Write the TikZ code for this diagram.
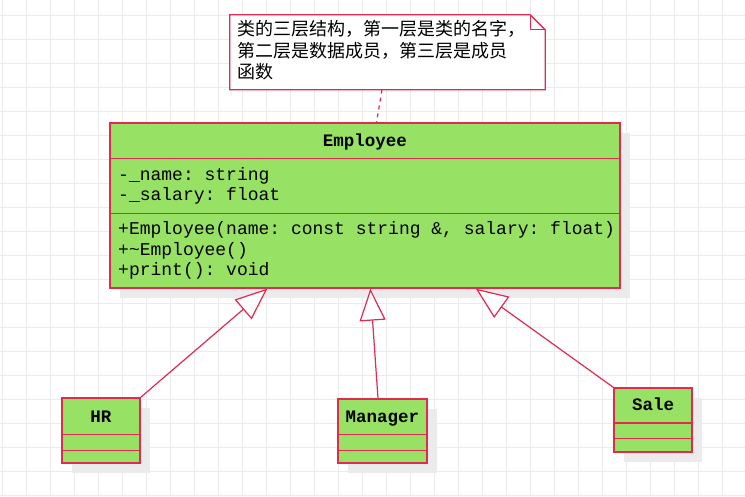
\documentclass[tikz,border=0pt]{standalone}
\usepackage{fontspec}
\setmonofont{Liberation Mono}
\newfontfamily\cjk{Noto Sans CJK SC}
\usepackage{xcolor}
\usepackage{tikz}
\usetikzlibrary{shapes, arrows.meta, positioning, calc, shadows}

\definecolor{umlgreen}{HTML}{97E265}
\definecolor{umlred}{HTML}{E2294F}
\definecolor{gridgray}{HTML}{EBEBEB}
\definecolor{shadowgray}{HTML}{EBEBEB}

\tikzset{
  classbox/.style={draw=umlred, fill=umlgreen, line width=1.3pt, inner sep=0pt,
    drop shadow={shadow xshift=10pt, shadow yshift=-10pt, fill=shadowgray, opacity=1}},
  classline/.style={draw=umlred, line width=1.3pt},
  classtitle/.style={font=\ttfamily\bfseries\fontsize{17.5}{20}\selectfont, inner sep=0pt,
    text height=12pt, text depth=3.5pt},
  membertext/.style={font=\ttfamily\fontsize{18}{20}\selectfont, anchor=west, inner sep=0pt,
    text height=12pt, text depth=3.5pt},
  inherit/.style={draw=umlred, line width=1.2pt, -{Triangle[length=32pt, width=26pt, fill=white]}},
  gridline/.style={draw=gridgray, line width=0.8pt},
}

\begin{document}
\begin{tikzpicture}[x=1pt, y=-1pt]
    % Fondo con cuadricula
    \useasboundingbox (0,0) rectangle (745,496);
    \fill[white] (0,0) rectangle (745,496);
    \foreach \gx in {2.5,26.5,...,745} \draw[gridline] (\gx,0) -- (\gx,496);
    \foreach \gy in {15.5,39.5,...,496} \draw[gridline] (0,\gy) -- (745,\gy);

    % Nota
    \node[minimum width=315pt, minimum height=74.5pt, inner sep=0pt] (note) at (387.5,52.25) {};
    \draw[classline, fill=white] (note.south west) -- (note.north west)
        -- ([xshift=-15pt]note.north east) -- ([yshift=-15pt]note.north east)
        -- (note.south east) -- cycle;
    \draw[classline] ([xshift=-15pt]note.north east) -- ([xshift=-15pt, yshift=-15pt]note.north east)
        -- ([yshift=-15pt]note.north east);
    \node[anchor=north west, align=left, inner sep=0pt, font=\cjk\fontsize{18}{21.5}\selectfont] (notetext)
        at (237,20.5) {类的三层结构，第一层是类的名字，\\第二层是数据成员，第三层是成员\\函数};

    % Clase Employee
    \node[classbox, minimum width=510pt, minimum height=165pt] (emp) at (365,205.5) {};
    \draw[classline] ($(emp.north west)+(0,36)$) -- ($(emp.north east)+(0,36)$);
    \draw[classline] ($(emp.north west)+(0,91)$) -- ($(emp.north east)+(0,91)$);
    \node[classtitle] (empname) at (365,142) {Employee};
    \node[membertext] (attrname) at (118,176) {-\_name: string};
    \node[membertext] (attrsalary) at (118,196.5) {-\_salary: float};
    \node[membertext] (opctor) at (118,230) {+Employee(name: const string \&, salary: float)};
    \node[membertext] (opdtor) at (118,251) {+\textasciitilde Employee()};
    \node[membertext] (opprint) at (118,271.5) {+print(): void};

    % Enlace de la nota
    \draw[umlred, line width=1.2pt, dash pattern=on 4pt off 4pt] ($(note.south)+(-5.5,0)$) -- ($(emp.north)+(11.5,0)$);

    % Subclases
    \node[classbox, minimum width=78pt, minimum height=65pt] (hr) at (101,430.5) {};
    \draw[classline] ($(hr.north west)+(0,37)$) -- ($(hr.north east)+(0,37)$);
    \draw[classline] ($(hr.north west)+(0,53)$) -- ($(hr.north east)+(0,53)$);
    \node[classtitle] (hrname) at (101,418) {HR};

    \node[classbox, minimum width=89pt, minimum height=64pt] (mgr) at (382.5,431) {};
    \draw[classline] ($(mgr.north west)+(0,36)$) -- ($(mgr.north east)+(0,36)$);
    \draw[classline] ($(mgr.north west)+(0,52)$) -- ($(mgr.north east)+(0,52)$);
    \node[classtitle] (mgrname) at (382.5,418) {Manager};

    \node[classbox, minimum width=78pt, minimum height=64pt] (sale) at (653,420) {};
    \draw[classline] ($(sale.north west)+(0,35.5)$) -- ($(sale.north east)+(0,35.5)$);
    \draw[classline] ($(sale.north west)+(0,51)$) -- ($(sale.north east)+(0,51)$);
    \node[classtitle] (salename) at (653,406) {Sale};

    % Herencia
    \coordinate (tiphr) at ($(emp.south west)+(158,0)$);
    \coordinate (tipmgr) at ($(emp.south west)+(261,0)$);
    \coordinate (tipsale) at ($(emp.south west)+(366.5,0)$);
    \draw[inherit] (hr.north east) -- (tiphr);
    \draw[inherit] ($(mgr.north)+(-4.5,0)$) -- (tipmgr);
    \draw[inherit] (sale.north west) -- (tipsale);
\end{tikzpicture}
\end{document}
